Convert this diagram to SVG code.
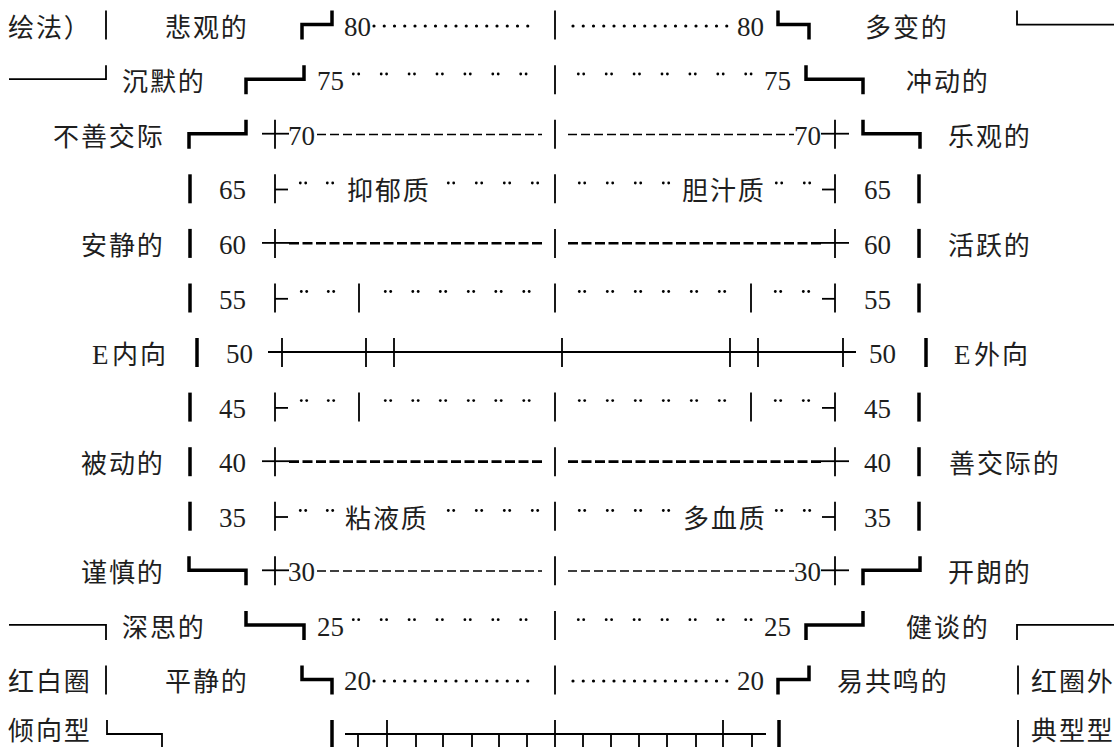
<svg xmlns="http://www.w3.org/2000/svg" xmlns:xlink="http://www.w3.org/1999/xlink" width="1114" height="747" viewBox="0 0 1114 747">
<style>
.cjk{font-family:"Noto Sans CJK SC","Noto Sans CJK JP",sans-serif;font-size:26px;letter-spacing:1.9px;fill:#1e1e1e}
.num{font-family:"Liberation Serif",serif;font-size:27px;fill:#1e1e1e}
.lat{font-family:"Liberation Serif",serif;font-size:27px;fill:#1e1e1e}
.thick{stroke:#000;stroke-width:3.5;fill:none;stroke-linejoin:miter}
.thin{stroke:#000;stroke-width:1.8;fill:none}
.dash{stroke:#000;stroke-width:1.5;stroke-dasharray:9 4;fill:none}
.hdash{stroke:#000;stroke-width:2.6;stroke-dasharray:10 3.5;fill:none}
.dots{stroke:#000;stroke-width:3.2;stroke-linecap:round;stroke-dasharray:0 10.25;fill:none}
</style>
<defs>
<g id="pair"><circle cx="-2.7" cy="0" r="1.4" fill="#000"/><circle cx="2.7" cy="0" r="1.4" fill="#000"/></g>
</defs>
<rect width="1114" height="747" fill="#fff"/>

<!-- row 0 : 80 -->
<g id="row80">
<text class="cjk" x="8" y="36.6">绘法）</text>
<line class="thin" x1="106" y1="10.6" x2="106" y2="39.6"/>
<text class="cjk" x="165" y="36.6">悲观的</text>
<path class="thick" d="M302,39.6 V24.6 H332 V10.6"/>
<text class="num" x="344" y="35.6">80</text>
<line class="dots" x1="374" y1="26" x2="538" y2="26"/>
<line class="thin" x1="555" y1="10.6" x2="555" y2="39.6"/>
<line class="dots" x1="573" y1="26" x2="737" y2="26"/>
<text class="num" x="737" y="35.6">80</text>
<path class="thick" d="M778,10.6 V24.6 H809 V39.6"/>
<text class="cjk" x="865" y="36.6">多变的</text>
<path class="thin" d="M1017,10.6 V24.6 H1114"/>
</g>

<!-- row 1 : 75 -->
<g id="row75">
<path class="thin" d="M9,79.2 H106 V65.2"/>
<text class="cjk" x="122" y="91.2">沉默的</text>
<path class="thick" d="M246,94.2 V79.2 H304 V65.2"/>
<text class="num" x="317" y="90.2">75</text>
<use xlink:href="#pair" x="356" y="74"/><use xlink:href="#pair" x="383.9" y="74"/><use xlink:href="#pair" x="411.8" y="74"/><use xlink:href="#pair" x="439.7" y="74"/><use xlink:href="#pair" x="467.6" y="74"/><use xlink:href="#pair" x="495.5" y="74"/><use xlink:href="#pair" x="523.4" y="74"/>
<line class="thin" x1="555" y1="65.2" x2="555" y2="94.2"/>
<use xlink:href="#pair" x="581" y="74"/><use xlink:href="#pair" x="608.9" y="74"/><use xlink:href="#pair" x="636.8" y="74"/><use xlink:href="#pair" x="664.7" y="74"/><use xlink:href="#pair" x="692.6" y="74"/><use xlink:href="#pair" x="720.5" y="74"/><use xlink:href="#pair" x="748.4" y="74"/>
<text class="num" x="764" y="90.2">75</text>
<path class="thick" d="M806,65.2 V79.2 H863 V94.2"/>
<text class="cjk" x="906" y="91.2">冲动的</text>
</g>

<!-- row 2 : 70 -->
<g id="row70">
<text class="cjk" x="53" y="145.7">不善交际</text>
<path class="thick" d="M189,148.7 V133.7 H246 V119.7"/>
<line class="thin" x1="275" y1="119.7" x2="275" y2="148.7"/>
<line class="thin" x1="262" y1="133.7" x2="289" y2="133.7"/>
<text class="num" x="288" y="144.7">70</text>
<line class="dash" x1="317" y1="134.5" x2="542" y2="134.5"/>
<line class="thin" x1="555" y1="119.7" x2="555" y2="148.7"/>
<line class="dash" x1="568" y1="134.5" x2="794" y2="134.5"/>
<text class="num" x="794" y="144.7">70</text>
<line class="thin" x1="835" y1="119.7" x2="835" y2="148.7"/>
<line class="thin" x1="821" y1="133.7" x2="849" y2="133.7"/>
<path class="thick" d="M863,119.7 V133.7 H920 V148.7"/>
<text class="cjk" x="948" y="145.7">乐观的</text>
</g>

<!-- row 3 : 65 -->
<g id="row65">
<line class="thick" x1="190" y1="174.3" x2="190" y2="203.3"/>
<text class="num" x="219" y="199.3">65</text>
<line class="thin" x1="275" y1="174.3" x2="275" y2="203.3"/>
<line class="thin" x1="275" y1="189.5" x2="288" y2="189.5"/>
<use xlink:href="#pair" x="303" y="183"/><use xlink:href="#pair" x="330" y="183"/>
<text class="cjk" x="347" y="200.3">抑郁质</text>
<use xlink:href="#pair" x="451" y="183"/><use xlink:href="#pair" x="479" y="183"/><use xlink:href="#pair" x="507" y="183"/><use xlink:href="#pair" x="535" y="183"/>
<line class="thin" x1="555" y1="174.3" x2="555" y2="203.3"/>
<use xlink:href="#pair" x="582" y="183"/><use xlink:href="#pair" x="610" y="183"/><use xlink:href="#pair" x="638" y="183"/><use xlink:href="#pair" x="666" y="183"/>
<text class="cjk" x="682" y="200.3">胆汁质</text>
<use xlink:href="#pair" x="779" y="183"/><use xlink:href="#pair" x="807" y="183"/>
<line class="thin" x1="822" y1="189.5" x2="835" y2="189.5"/>
<line class="thin" x1="835" y1="174.3" x2="835" y2="203.3"/>
<text class="num" x="864" y="199.3">65</text>
<line class="thick" x1="919" y1="174.3" x2="919" y2="203.3"/>
</g>

<!-- row 4 : 60 -->
<g id="row60">
<text class="cjk" x="81" y="254.9">安静的</text>
<line class="thick" x1="190" y1="228.9" x2="190" y2="257.9"/>
<text class="num" x="219" y="253.9">60</text>
<line class="thin" x1="275" y1="228.9" x2="275" y2="257.9"/>
<line class="thin" x1="262" y1="242.9" x2="289" y2="242.9"/>
<line class="hdash" x1="289" y1="243.3" x2="542" y2="243.3"/>
<line class="thin" x1="555" y1="228.9" x2="555" y2="257.9"/>
<line class="hdash" x1="568" y1="243.3" x2="822" y2="243.3"/>
<line class="thin" x1="835" y1="228.9" x2="835" y2="257.9"/>
<line class="thin" x1="821" y1="242.9" x2="849" y2="242.9"/>
<text class="num" x="864" y="253.9">60</text>
<line class="thick" x1="919" y1="228.9" x2="919" y2="257.9"/>
<text class="cjk" x="948" y="254.9">活跃的</text>
</g>

<!-- row 5 : 55 -->
<g id="row55">
<line class="thick" x1="190" y1="283.5" x2="190" y2="312.5"/>
<text class="num" x="219" y="308.5">55</text>
<line class="thin" x1="275" y1="283.5" x2="275" y2="312.5"/>
<line class="thin" x1="275" y1="298.8" x2="288" y2="298.8"/>
<use xlink:href="#pair" x="304" y="291.5"/><use xlink:href="#pair" x="331" y="291.5"/>
<line class="thin" x1="359" y1="283.5" x2="359" y2="312.5"/>
<use xlink:href="#pair" x="388" y="291.5"/><use xlink:href="#pair" x="415.5" y="291.5"/><use xlink:href="#pair" x="443" y="291.5"/><use xlink:href="#pair" x="471" y="291.5"/><use xlink:href="#pair" x="498.5" y="291.5"/><use xlink:href="#pair" x="526.5" y="291.5"/>
<line class="thin" x1="555" y1="283.5" x2="555" y2="312.5"/>
<use xlink:href="#pair" x="582" y="291.5"/><use xlink:href="#pair" x="610" y="291.5"/><use xlink:href="#pair" x="638" y="291.5"/><use xlink:href="#pair" x="666" y="291.5"/><use xlink:href="#pair" x="694" y="291.5"/><use xlink:href="#pair" x="722" y="291.5"/>
<line class="thin" x1="751" y1="283.5" x2="751" y2="312.5"/>
<use xlink:href="#pair" x="778" y="291.5"/><use xlink:href="#pair" x="806" y="291.5"/>
<line class="thin" x1="822" y1="298.8" x2="835" y2="298.8"/>
<line class="thin" x1="835" y1="283.5" x2="835" y2="312.5"/>
<text class="num" x="864" y="308.5">55</text>
<line class="thick" x1="919" y1="283.5" x2="919" y2="312.5"/>
</g>

<!-- row 6 : 50 -->
<g id="row50">
<text class="lat" x="92" y="364">E</text>
<text class="cjk" x="112" y="364">内向</text>
<line class="thick" x1="197" y1="338" x2="197" y2="367"/>
<text class="num" x="226" y="363">50</text>
<line class="thin" x1="268" y1="352" x2="856" y2="352"/>
<path class="thin" d="M282,338 V367 M366,338 V367 M394,338 V367 M562,338 V367 M730,338 V367 M758,338 V367 M843,338 V367"/>
<text class="num" x="869" y="363">50</text>
<line class="thick" x1="926" y1="338" x2="926" y2="367"/>
<text class="lat" x="954" y="364">E</text>
<text class="cjk" x="974" y="364">外向</text>
</g>

<!-- row 7 : 45 -->
<g id="row45">
<line class="thick" x1="190" y1="392.6" x2="190" y2="421.6"/>
<text class="num" x="219" y="417.6">45</text>
<line class="thin" x1="275" y1="392.6" x2="275" y2="421.6"/>
<line class="thin" x1="275" y1="407.9" x2="288" y2="407.9"/>
<use xlink:href="#pair" x="304" y="400.6"/><use xlink:href="#pair" x="331" y="400.6"/>
<line class="thin" x1="359" y1="392.6" x2="359" y2="421.6"/>
<use xlink:href="#pair" x="388" y="400.6"/><use xlink:href="#pair" x="415.5" y="400.6"/><use xlink:href="#pair" x="443" y="400.6"/><use xlink:href="#pair" x="471" y="400.6"/><use xlink:href="#pair" x="498.5" y="400.6"/><use xlink:href="#pair" x="526.5" y="400.6"/>
<line class="thin" x1="555" y1="392.6" x2="555" y2="421.6"/>
<use xlink:href="#pair" x="582" y="400.6"/><use xlink:href="#pair" x="610" y="400.6"/><use xlink:href="#pair" x="638" y="400.6"/><use xlink:href="#pair" x="666" y="400.6"/><use xlink:href="#pair" x="694" y="400.6"/><use xlink:href="#pair" x="722" y="400.6"/>
<line class="thin" x1="751" y1="392.6" x2="751" y2="421.6"/>
<use xlink:href="#pair" x="778" y="400.6"/><use xlink:href="#pair" x="806" y="400.6"/>
<line class="thin" x1="822" y1="407.9" x2="835" y2="407.9"/>
<line class="thin" x1="835" y1="392.6" x2="835" y2="421.6"/>
<text class="num" x="864" y="417.6">45</text>
<line class="thick" x1="919" y1="392.6" x2="919" y2="421.6"/>
</g>

<!-- row 8 : 40 -->
<g id="row40">
<text class="cjk" x="81" y="473.2">被动的</text>
<line class="thick" x1="190" y1="447.2" x2="190" y2="476.2"/>
<text class="num" x="219" y="472.2">40</text>
<line class="thin" x1="275" y1="447.2" x2="275" y2="476.2"/>
<line class="thin" x1="262" y1="461.2" x2="289" y2="461.2"/>
<line class="hdash" x1="289" y1="461.6" x2="542" y2="461.6"/>
<line class="thin" x1="555" y1="447.2" x2="555" y2="476.2"/>
<line class="hdash" x1="568" y1="461.6" x2="822" y2="461.6"/>
<line class="thin" x1="835" y1="447.2" x2="835" y2="476.2"/>
<line class="thin" x1="821" y1="461.2" x2="849" y2="461.2"/>
<text class="num" x="864" y="472.2">40</text>
<line class="thick" x1="919" y1="447.2" x2="919" y2="476.2"/>
<text class="cjk" x="949" y="473.2">善交际的</text>
</g>

<!-- row 9 : 35 -->
<g id="row35">
<line class="thick" x1="190" y1="501.7" x2="190" y2="530.7"/>
<text class="num" x="219" y="526.7">35</text>
<line class="thin" x1="275" y1="501.7" x2="275" y2="530.7"/>
<line class="thin" x1="275" y1="517" x2="288" y2="517"/>
<use xlink:href="#pair" x="303" y="510.5"/><use xlink:href="#pair" x="330" y="510.5"/>
<text class="cjk" x="345" y="527.7">粘液质</text>
<use xlink:href="#pair" x="451" y="510.5"/><use xlink:href="#pair" x="479" y="510.5"/><use xlink:href="#pair" x="507" y="510.5"/><use xlink:href="#pair" x="535" y="510.5"/>
<line class="thin" x1="555" y1="501.7" x2="555" y2="530.7"/>
<use xlink:href="#pair" x="582" y="510.5"/><use xlink:href="#pair" x="610" y="510.5"/><use xlink:href="#pair" x="638" y="510.5"/><use xlink:href="#pair" x="666" y="510.5"/>
<text class="cjk" x="683" y="527.7">多血质</text>
<use xlink:href="#pair" x="779" y="510.5"/><use xlink:href="#pair" x="807" y="510.5"/>
<line class="thin" x1="822" y1="517" x2="835" y2="517"/>
<line class="thin" x1="835" y1="501.7" x2="835" y2="530.7"/>
<text class="num" x="864" y="526.7">35</text>
<line class="thick" x1="919" y1="501.7" x2="919" y2="530.7"/>
</g>

<!-- row 10 : 30 -->
<g id="row30">
<text class="cjk" x="81" y="582.3">谨慎的</text>
<path class="thick" d="M189,556.3 V570.3 H246 V585.3"/>
<line class="thin" x1="275" y1="556.3" x2="275" y2="585.3"/>
<line class="thin" x1="262" y1="570.3" x2="289" y2="570.3"/>
<text class="num" x="288" y="581.3">30</text>
<line class="dash" x1="317" y1="571.1" x2="542" y2="571.1"/>
<line class="thin" x1="555" y1="556.3" x2="555" y2="585.3"/>
<line class="dash" x1="568" y1="571.1" x2="794" y2="571.1"/>
<text class="num" x="794" y="581.3">30</text>
<line class="thin" x1="835" y1="556.3" x2="835" y2="585.3"/>
<line class="thin" x1="821" y1="570.3" x2="849" y2="570.3"/>
<path class="thick" d="M863,585.3 V570.3 H920 V556.3"/>
<text class="cjk" x="948" y="582.3">开朗的</text>
</g>

<!-- row 11 : 25 -->
<g id="row25">
<path class="thin" d="M9,624.9 H106 V639.9"/>
<text class="cjk" x="122" y="636.9">深思的</text>
<path class="thick" d="M246,610.9 V624.9 H304 V639.9"/>
<text class="num" x="317" y="635.9">25</text>
<use xlink:href="#pair" x="356" y="619.7"/><use xlink:href="#pair" x="383.9" y="619.7"/><use xlink:href="#pair" x="411.8" y="619.7"/><use xlink:href="#pair" x="439.7" y="619.7"/><use xlink:href="#pair" x="467.6" y="619.7"/><use xlink:href="#pair" x="495.5" y="619.7"/><use xlink:href="#pair" x="523.4" y="619.7"/>
<line class="thin" x1="555" y1="610.9" x2="555" y2="639.9"/>
<use xlink:href="#pair" x="581" y="619.7"/><use xlink:href="#pair" x="608.9" y="619.7"/><use xlink:href="#pair" x="636.8" y="619.7"/><use xlink:href="#pair" x="664.7" y="619.7"/><use xlink:href="#pair" x="692.6" y="619.7"/><use xlink:href="#pair" x="720.5" y="619.7"/><use xlink:href="#pair" x="748.4" y="619.7"/>
<text class="num" x="764" y="635.9">25</text>
<path class="thick" d="M806,639.9 V624.9 H863 V610.9"/>
<text class="cjk" x="906" y="636.9">健谈的</text>
<path class="thin" d="M1017,639.9 V624.9 H1114"/>
</g>

<!-- row 12 : 20 -->
<g id="row20">
<text class="cjk" x="8" y="691.4">红白圈</text>
<line class="thin" x1="106" y1="665.4" x2="106" y2="694.4"/>
<text class="cjk" x="165" y="691.4">平静的</text>
<path class="thick" d="M302,665.4 V679.4 H332 V694.4"/>
<text class="num" x="344" y="690.4">20</text>
<line class="dots" x1="374" y1="681" x2="538" y2="681"/>
<line class="thin" x1="555" y1="665.4" x2="555" y2="694.4"/>
<line class="dots" x1="573" y1="681" x2="737" y2="681"/>
<text class="num" x="737" y="690.4">20</text>
<path class="thick" d="M778,694.4 V679.4 H809 V665.4"/>
<text class="cjk" x="837" y="691.4">易共鸣的</text>
<line class="thin" x1="1018" y1="665.4" x2="1018" y2="694.4"/>
<text class="cjk" x="1031" y="691.4">红圈外</text>
</g>

<!-- row 13 : ruler -->
<g id="ruler">
<text class="cjk" x="8" y="740">倾向型</text>
<path class="thin" d="M107,720 V734 H162 V747"/>
<line class="thick" x1="332" y1="720" x2="332" y2="747"/>
<line class="thin" x1="345" y1="734" x2="766" y2="734"/>
<path class="thin" d="M358,734 V747 M416,734 V747 M443,734 V747 M472,734 V747 M499,734 V747 M527,734 V747 M583,734 V747 M611,734 V747 M639,734 V747 M667,734 V747 M696,734 V747 M752,734 V747"/>
<path class="thin" d="M387,720 V747 M555,720 V747 M723,720 V747"/>
<line class="thick" x1="779" y1="720" x2="779" y2="747"/>
<line class="thin" x1="1018" y1="720" x2="1018" y2="747"/>
<text class="cjk" x="1031" y="740">典型型</text>
</g>
</svg>
